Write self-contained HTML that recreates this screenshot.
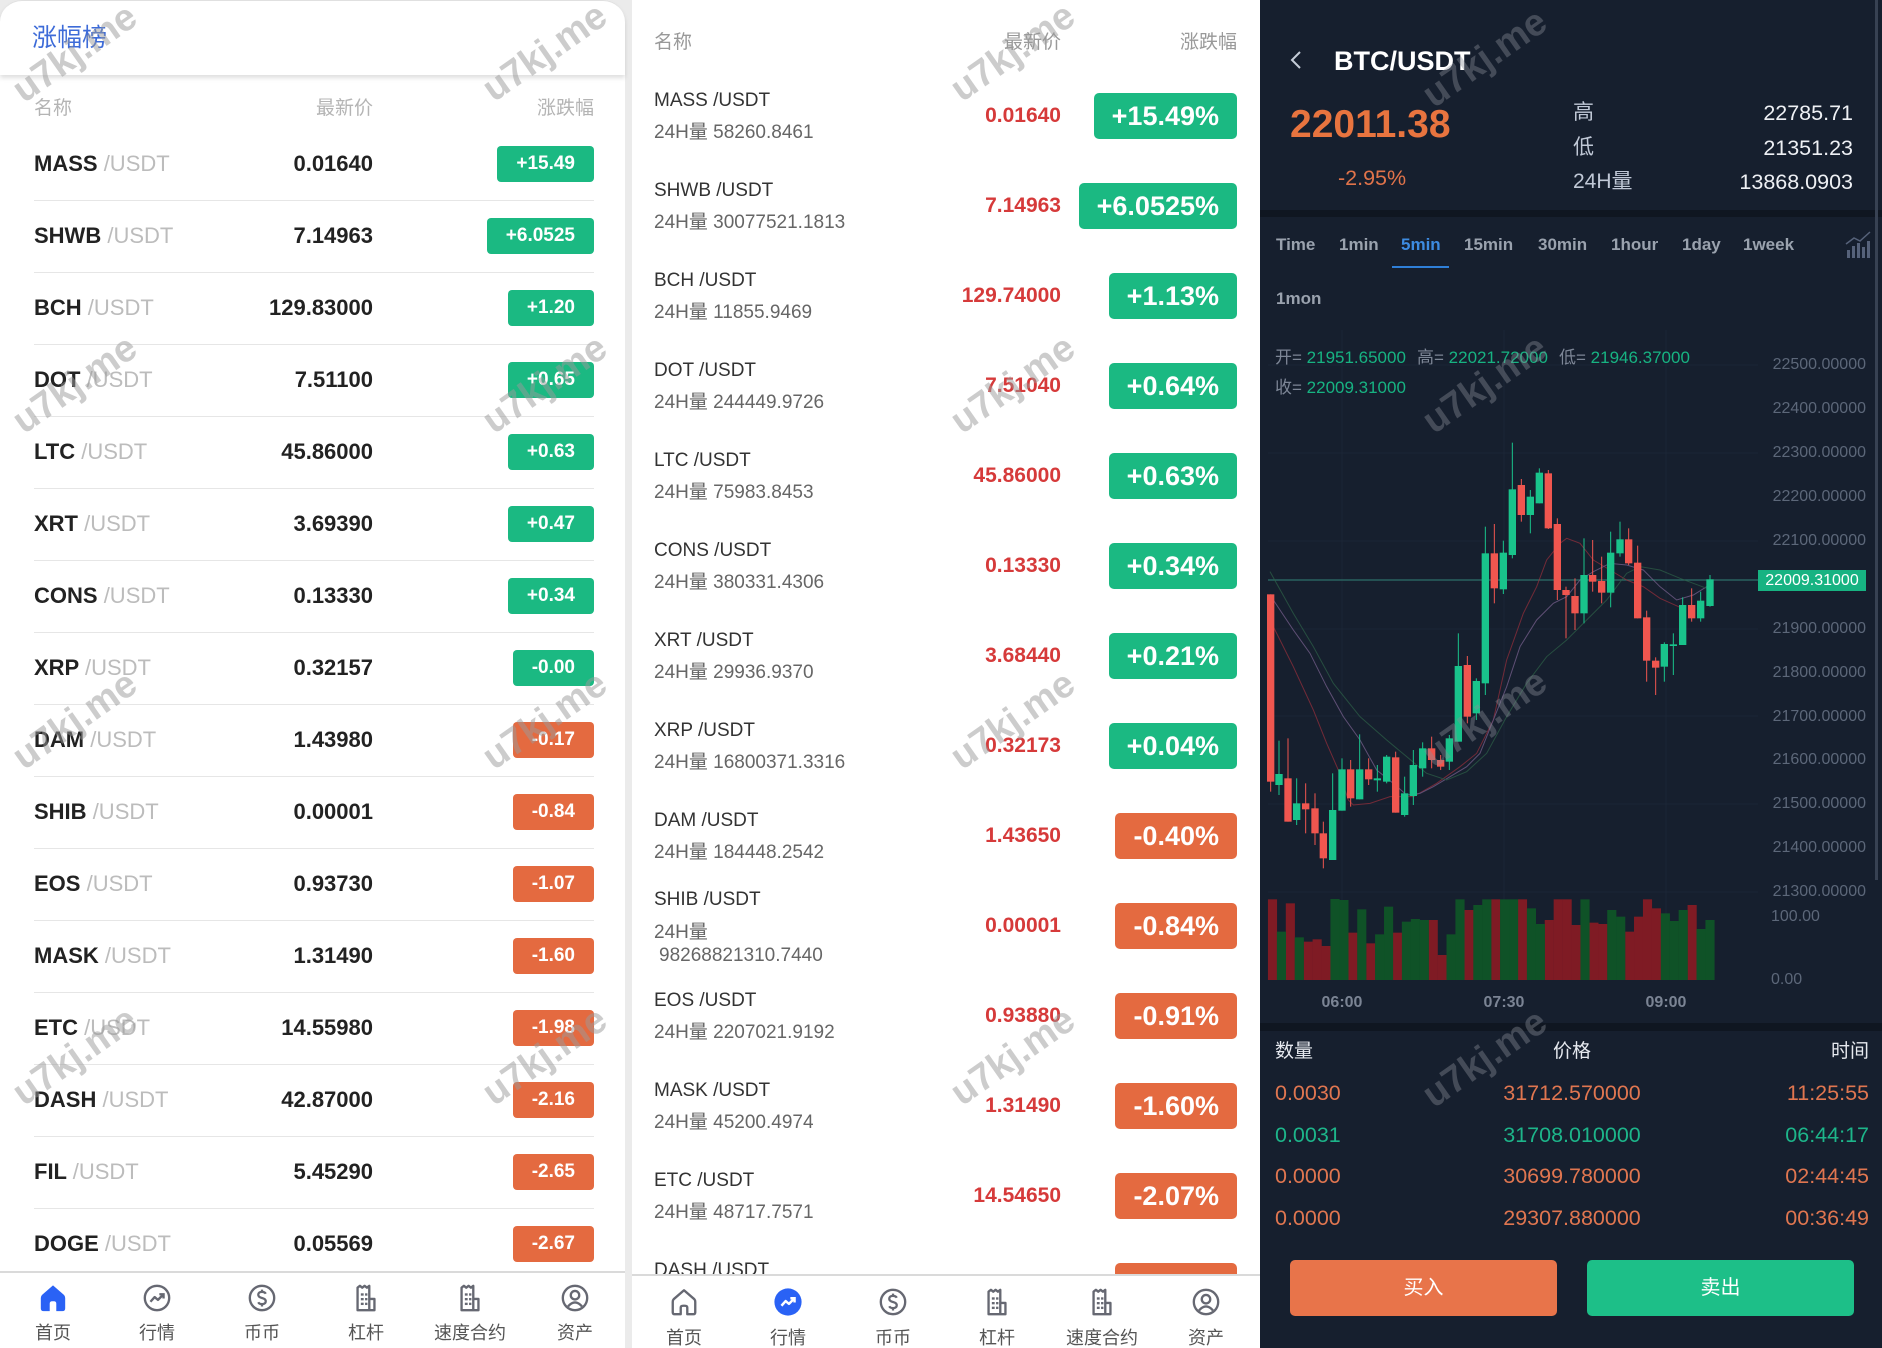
<!DOCTYPE html>
<html><head><meta charset="utf-8">
<style>
body{margin:0;}
#c{position:relative;width:1882px;height:1348px;overflow:hidden;background:#ebebeb;font-family:"Liberation Sans","Noto Sans CJK SC",sans-serif;}
.a{position:absolute;white-space:nowrap;}
.nm{left:34px;height:36px;line-height:36px;font-size:22px;font-weight:bold;color:#222;}
.us{color:#bcbcbc;font-weight:normal;}
.pr{right:1509px;height:36px;line-height:36px;font-size:22px;font-weight:bold;color:#222;}
.bd{right:1288px;height:36px;line-height:36px;padding:0 19px;border-radius:4px;color:#fff;font-size:19px;font-weight:bold;}
.g{background:#1bb982;}.o{background:#e46a40;}
.dv{left:34px;width:560px;height:1px;background:#e6e6e6;}
.n2{left:654px;height:24px;line-height:24px;font-size:19px;color:#333;}
.v2{left:654px;height:24px;line-height:24px;font-size:19px;color:#666;}
.p2{right:821px;height:46px;line-height:46px;font-size:21px;font-weight:bold;color:#d63a3a;}
.b2{right:645px;height:46px;line-height:46px;padding:0 18px;border-radius:5px;color:#fff;font-size:27px;font-weight:bold;}
.h1{height:24px;line-height:24px;font-size:19px;color:#b4b4b4;}
.h2{height:24px;line-height:24px;font-size:19px;color:#999;}
.nl{width:100px;text-align:center;height:22px;line-height:22px;font-size:18px;color:#555;}
.tb{top:233px;height:24px;line-height:24px;font-size:17px;font-weight:bold;color:#9aa2ae;}
.yl{right:16px;height:20px;line-height:20px;font-size:16px;color:#5c6779;}
.oh{height:22px;line-height:22px;font-size:17px;color:#7d8696;}
.oh b{font-weight:normal;color:#17b382;}
.tl{height:20px;line-height:20px;font-size:16px;font-weight:bold;color:#7b8494;width:80px;text-align:center;}
.tr{height:28px;line-height:28px;font-size:21.5px;}
.or{color:#e07650;}.gr{color:#1db58a;}
</style></head><body>
<div id="c">
<svg width="0" height="0" style="position:absolute">
<defs>
<symbol id="ihome" viewBox="0 0 32 32"><path d="M16 2.5 L4.5 12.5 Q3 13.8 3 15.8 V27 Q3 30 6 30 H12.5 V22 Q12.5 19.5 15 19.5 H17 Q19.5 19.5 19.5 22 V30 H26 Q29 30 29 27 V15.8 Q29 13.8 27.5 12.5 Z" fill="#2a62f5"/></symbol>
<symbol id="ihomeo" viewBox="0 0 32 32"><path d="M16 3.5 L5 13 Q4 14 4 15.8 V27 Q4 29 6 29 H12.5 V22 Q12.5 20 15 20 H17 Q19.5 20 19.5 22 V29 H26 Q28 29 28 27 V15.8 Q28 14 27 13 Z" fill="none" stroke="#666872" stroke-width="2.5" stroke-linejoin="round"/></symbol>
<symbol id="itrend" viewBox="0 0 32 32"><circle cx="16" cy="16" r="13" fill="none" stroke="#666872" stroke-width="2.5"/><polyline points="9,20 13.5,15 17,18 23,12" fill="none" stroke="#666872" stroke-width="2.5" stroke-linejoin="round"/><polyline points="18.5,12 23,12 23,16.5" fill="none" stroke="#666872" stroke-width="2.5"/></symbol>
<symbol id="itrendb" viewBox="0 0 32 32"><circle cx="16" cy="16" r="14.5" fill="#2a62f5"/><polyline points="9,20 13.5,15 17,18 23,12" fill="none" stroke="#fff" stroke-width="2.6" stroke-linejoin="round"/><polyline points="18.5,12 23,12 23,16.5" fill="none" stroke="#fff" stroke-width="2.6"/></symbol>
<symbol id="idol" viewBox="0 0 32 32"><circle cx="16" cy="16" r="13" fill="none" stroke="#666872" stroke-width="2.5"/><path d="M20 11.5 Q19 9.5 16 9.5 Q12 9.5 12 12.5 Q12 15 16 16 Q20 17 20 19.5 Q20 22.5 16 22.5 Q13 22.5 12 20.5 M16 7 V9.5 M16 22.5 V25" fill="none" stroke="#666872" stroke-width="2.4"/></symbol>
<symbol id="ibld" viewBox="0 0 32 32"><path d="M7 29 V5 L9.5 3 L12 5 L14.5 3 L17 5 L19.5 3 V29 Z M19.5 17 H25 V29 H19.5" fill="none" stroke="#666872" stroke-width="2.5" stroke-linejoin="round"/><rect x="10.5" y="11" width="3" height="2.5" fill="#666872"/><rect x="15" y="11" width="2.5" height="2.5" fill="#666872"/><rect x="10.5" y="16" width="3" height="2.5" fill="#666872"/><rect x="15" y="16" width="2.5" height="2.5" fill="#666872"/><rect x="10.5" y="21" width="3" height="2.5" fill="#666872"/><rect x="15" y="21" width="2.5" height="2.5" fill="#666872"/></symbol>
<symbol id="iusr" viewBox="0 0 32 32"><circle cx="16" cy="16" r="13" fill="none" stroke="#666872" stroke-width="2.5"/><circle cx="16" cy="13" r="4.5" fill="none" stroke="#666872" stroke-width="2.5"/><path d="M8.5 25 Q16 16.5 23.5 25" fill="none" stroke="#666872" stroke-width="2.5"/></symbol>
</defs>
</svg>

<!-- PANEL 1 -->
<div class="a" style="left:0;top:0;width:625px;height:1348px;background:#fff;border-radius:22px 22px 0 0;"></div>
<div class="a" style="left:0;top:0;width:625px;height:74px;background:#fff;border-radius:22px 22px 0 0;box-shadow:0 3px 5px rgba(0,0,0,0.13);border-top:1px solid #e0e0e0;"></div>
<div class="a" style="left:32px;top:23px;height:30px;line-height:30px;font-size:25px;color:#3d6bd8;">涨幅榜</div>
<div class="a h1" style="left:34px;top:97px;">名称</div>
<div class="a h1" style="right:1509px;top:97px;">最新价</div>
<div class="a h1" style="right:1288px;top:97px;">涨跌幅</div>

<div class="a nm" style="top:146px">MASS <span class="us">/USDT</span></div><div class="a pr" style="top:146px">0.01640</div><div class="a bd g" style="top:146px">+15.49</div>
<div class="a nm" style="top:218px">SHWB <span class="us">/USDT</span></div><div class="a pr" style="top:218px">7.14963</div><div class="a bd g" style="top:218px">+6.0525</div>
<div class="a nm" style="top:290px">BCH <span class="us">/USDT</span></div><div class="a pr" style="top:290px">129.83000</div><div class="a bd g" style="top:290px">+1.20</div>
<div class="a nm" style="top:362px">DOT <span class="us">/USDT</span></div><div class="a pr" style="top:362px">7.51100</div><div class="a bd g" style="top:362px">+0.65</div>
<div class="a nm" style="top:434px">LTC <span class="us">/USDT</span></div><div class="a pr" style="top:434px">45.86000</div><div class="a bd g" style="top:434px">+0.63</div>
<div class="a nm" style="top:506px">XRT <span class="us">/USDT</span></div><div class="a pr" style="top:506px">3.69390</div><div class="a bd g" style="top:506px">+0.47</div>
<div class="a nm" style="top:578px">CONS <span class="us">/USDT</span></div><div class="a pr" style="top:578px">0.13330</div><div class="a bd g" style="top:578px">+0.34</div>
<div class="a nm" style="top:650px">XRP <span class="us">/USDT</span></div><div class="a pr" style="top:650px">0.32157</div><div class="a bd g" style="top:650px">-0.00</div>
<div class="a nm" style="top:722px">DAM <span class="us">/USDT</span></div><div class="a pr" style="top:722px">1.43980</div><div class="a bd o" style="top:722px">-0.17</div>
<div class="a nm" style="top:794px">SHIB <span class="us">/USDT</span></div><div class="a pr" style="top:794px">0.00001</div><div class="a bd o" style="top:794px">-0.84</div>
<div class="a nm" style="top:866px">EOS <span class="us">/USDT</span></div><div class="a pr" style="top:866px">0.93730</div><div class="a bd o" style="top:866px">-1.07</div>
<div class="a nm" style="top:938px">MASK <span class="us">/USDT</span></div><div class="a pr" style="top:938px">1.31490</div><div class="a bd o" style="top:938px">-1.60</div>
<div class="a nm" style="top:1010px">ETC <span class="us">/USDT</span></div><div class="a pr" style="top:1010px">14.55980</div><div class="a bd o" style="top:1010px">-1.98</div>
<div class="a nm" style="top:1082px">DASH <span class="us">/USDT</span></div><div class="a pr" style="top:1082px">42.87000</div><div class="a bd o" style="top:1082px">-2.16</div>
<div class="a nm" style="top:1154px">FIL <span class="us">/USDT</span></div><div class="a pr" style="top:1154px">5.45290</div><div class="a bd o" style="top:1154px">-2.65</div>
<div class="a nm" style="top:1226px">DOGE <span class="us">/USDT</span></div><div class="a pr" style="top:1226px">0.05569</div><div class="a bd o" style="top:1226px">-2.67</div>

<div class="a dv" style="top:200px"></div><div class="a dv" style="top:272px"></div><div class="a dv" style="top:344px"></div><div class="a dv" style="top:416px"></div><div class="a dv" style="top:488px"></div><div class="a dv" style="top:560px"></div><div class="a dv" style="top:632px"></div><div class="a dv" style="top:704px"></div><div class="a dv" style="top:776px"></div><div class="a dv" style="top:848px"></div><div class="a dv" style="top:920px"></div><div class="a dv" style="top:992px"></div><div class="a dv" style="top:1064px"></div><div class="a dv" style="top:1136px"></div><div class="a dv" style="top:1208px"></div>

<div class="a" style="left:0;top:1271px;width:625px;height:77px;background:#fff;border-top:2px solid #dadada;"></div>
<svg class="a" style="left:38px;top:1283px" width="30" height="30"><use href="#ihome"/></svg>
<svg class="a" style="left:142px;top:1283px" width="30" height="30"><use href="#itrend"/></svg>
<svg class="a" style="left:247px;top:1283px" width="30" height="30"><use href="#idol"/></svg>
<svg class="a" style="left:351px;top:1283px" width="30" height="30"><use href="#ibld"/></svg>
<svg class="a" style="left:455px;top:1283px" width="30" height="30"><use href="#ibld"/></svg>
<svg class="a" style="left:560px;top:1283px" width="30" height="30"><use href="#iusr"/></svg>
<div class="a nl" style="left:3px;top:1322px">首页</div>
<div class="a nl" style="left:107px;top:1322px">行情</div>
<div class="a nl" style="left:212px;top:1322px">币币</div>
<div class="a nl" style="left:316px;top:1322px">杠杆</div>
<div class="a nl" style="left:420px;top:1322px">速度合约</div>
<div class="a nl" style="left:525px;top:1322px">资产</div>

<!-- PANEL 2 -->
<div class="a" style="left:632px;top:0;width:628px;height:1348px;background:#fff;"></div>
<div class="a h2" style="left:654px;top:31px;">名称</div>
<div class="a h2" style="right:821px;top:31px;">最新价</div>
<div class="a h2" style="right:645px;top:31px;">涨跌幅</div>

<div class="a n2" style="top:89px">MASS /USDT</div><div class="a v2" style="top:121px">24H量 58260.8461</div><div class="a p2" style="top:93px">0.01640</div><div class="a b2 g" style="top:93px">+15.49%</div>
<div class="a n2" style="top:179px">SHWB /USDT</div><div class="a v2" style="top:211px">24H量 30077521.1813</div><div class="a p2" style="top:183px">7.14963</div><div class="a b2 g" style="top:183px">+6.0525%</div>
<div class="a n2" style="top:269px">BCH /USDT</div><div class="a v2" style="top:301px">24H量 11855.9469</div><div class="a p2" style="top:273px">129.74000</div><div class="a b2 g" style="top:273px">+1.13%</div>
<div class="a n2" style="top:359px">DOT /USDT</div><div class="a v2" style="top:391px">24H量 244449.9726</div><div class="a p2" style="top:363px">7.51040</div><div class="a b2 g" style="top:363px">+0.64%</div>
<div class="a n2" style="top:449px">LTC /USDT</div><div class="a v2" style="top:481px">24H量 75983.8453</div><div class="a p2" style="top:453px">45.86000</div><div class="a b2 g" style="top:453px">+0.63%</div>
<div class="a n2" style="top:539px">CONS /USDT</div><div class="a v2" style="top:571px">24H量 380331.4306</div><div class="a p2" style="top:543px">0.13330</div><div class="a b2 g" style="top:543px">+0.34%</div>
<div class="a n2" style="top:629px">XRT /USDT</div><div class="a v2" style="top:661px">24H量 29936.9370</div><div class="a p2" style="top:633px">3.68440</div><div class="a b2 g" style="top:633px">+0.21%</div>
<div class="a n2" style="top:719px">XRP /USDT</div><div class="a v2" style="top:751px">24H量 16800371.3316</div><div class="a p2" style="top:723px">0.32173</div><div class="a b2 g" style="top:723px">+0.04%</div>
<div class="a n2" style="top:809px">DAM /USDT</div><div class="a v2" style="top:841px">24H量 184448.2542</div><div class="a p2" style="top:813px">1.43650</div><div class="a b2 o" style="top:813px">-0.40%</div>
<div class="a n2" style="top:888px">SHIB /USDT</div><div class="a v2" style="top:921px">24H量</div><div class="a v2" style="top:944px;left:659px">98268821310.7440</div><div class="a p2" style="top:903px">0.00001</div><div class="a b2 o" style="top:903px">-0.84%</div>
<div class="a n2" style="top:989px">EOS /USDT</div><div class="a v2" style="top:1021px">24H量 2207021.9192</div><div class="a p2" style="top:993px">0.93880</div><div class="a b2 o" style="top:993px">-0.91%</div>
<div class="a n2" style="top:1079px">MASK /USDT</div><div class="a v2" style="top:1111px">24H量 45200.4974</div><div class="a p2" style="top:1083px">1.31490</div><div class="a b2 o" style="top:1083px">-1.60%</div>
<div class="a n2" style="top:1169px">ETC /USDT</div><div class="a v2" style="top:1201px">24H量 48717.7571</div><div class="a p2" style="top:1173px">14.54650</div><div class="a b2 o" style="top:1173px">-2.07%</div>
<div class="a n2" style="top:1259px">DASH /USDT</div><div class="a b2 o" style="top:1263px">-2.16%</div>

<div class="a" style="left:632px;top:1274px;width:628px;height:74px;background:#fff;border-top:2px solid #dadada;"></div>
<svg class="a" style="left:669px;top:1287px" width="30" height="30"><use href="#ihomeo"/></svg>
<svg class="a" style="left:773px;top:1287px" width="30" height="30"><use href="#itrendb"/></svg>
<svg class="a" style="left:878px;top:1287px" width="30" height="30"><use href="#idol"/></svg>
<svg class="a" style="left:982px;top:1287px" width="30" height="30"><use href="#ibld"/></svg>
<svg class="a" style="left:1087px;top:1287px" width="30" height="30"><use href="#ibld"/></svg>
<svg class="a" style="left:1191px;top:1287px" width="30" height="30"><use href="#iusr"/></svg>
<div class="a nl" style="left:634px;top:1327px">首页</div>
<div class="a nl" style="left:738px;top:1327px">行情</div>
<div class="a nl" style="left:843px;top:1327px">币币</div>
<div class="a nl" style="left:947px;top:1327px">杠杆</div>
<div class="a nl" style="left:1052px;top:1327px">速度合约</div>
<div class="a nl" style="left:1156px;top:1327px">资产</div>

<!-- PANEL 3 -->
<div class="a" style="left:1260px;top:0;width:622px;height:1348px;background:#161f2e;"></div>
<div class="a" style="left:1260px;top:210px;width:622px;height:7px;background:#0f1621;"></div>
<div class="a" style="left:1260px;top:1023px;width:622px;height:8px;background:#0f1621;"></div>
<div class="a" style="left:1875px;top:0;width:3px;height:880px;background:#384253;"></div>

<svg class="a" style="left:1260px;top:0" width="622" height="1348">
 <polyline points="40,52 32,60 40,68" fill="none" stroke="#c5cdd8" stroke-width="2"/>
 <g fill="#56627a"><rect x="587" y="250" width="3" height="8"/><rect x="592" y="246" width="3" height="12"/><rect x="597" y="243" width="3" height="15"/><rect x="602" y="247" width="3" height="11"/><rect x="607" y="241" width="3" height="17"/></g>
 <polyline points="586,244 594,238 600,241 610,232" fill="none" stroke="#56627a" stroke-width="1.5"/>
 <rect x="132" y="266" width="57" height="2" fill="#2f7fd8"/>
 <g stroke="#1b2636" stroke-width="1">
  <line x1="82" y1="330" x2="82" y2="980"/><line x1="244" y1="330" x2="244" y2="980"/><line x1="406" y1="330" x2="406" y2="980"/>
  <line x1="8" y1="365" x2="498" y2="365"/><line x1="8" y1="453" x2="498" y2="453"/><line x1="8" y1="541" x2="498" y2="541"/><line x1="8" y1="629" x2="498" y2="629"/><line x1="8" y1="716" x2="498" y2="716"/><line x1="8" y1="804" x2="498" y2="804"/><line x1="8" y1="892" x2="498" y2="892"/>
 </g>
 <line x1="8" y1="580" x2="498" y2="580" stroke="#2d6f6a" stroke-width="1.2"/>
</svg>

<div class="a" style="left:1334px;top:44px;height:34px;line-height:34px;font-size:27px;font-weight:bold;color:#fff;">BTC/USDT</div>
<div class="a" style="left:1290px;top:101px;height:48px;line-height:48px;font-size:39px;font-weight:bold;color:#e8743f;">22011.38</div>
<div class="a" style="left:1338px;top:164px;height:28px;line-height:28px;font-size:21.5px;color:#e0734a;">-2.95%</div>
<div class="a" style="left:1573px;top:99px;height:28px;line-height:28px;font-size:21px;color:#c0c8d6;">高</div>
<div class="a" style="left:1573px;top:134px;height:28px;line-height:28px;font-size:21px;color:#c0c8d6;">低</div>
<div class="a" style="left:1573px;top:168px;height:28px;line-height:28px;font-size:21px;color:#c0c8d6;">24H量</div>
<div class="a" style="right:29px;top:99px;height:28px;line-height:28px;font-size:21.5px;color:#eef0f4;">22785.71</div>
<div class="a" style="right:29px;top:134px;height:28px;line-height:28px;font-size:21.5px;color:#eef0f4;">21351.23</div>
<div class="a" style="right:29px;top:168px;height:28px;line-height:28px;font-size:21.5px;color:#eef0f4;">13868.0903</div>

<div class="a tb" style="left:1276px">Time</div>
<div class="a tb" style="left:1339px">1min</div>
<div class="a tb" style="left:1401px;color:#3d8be0">5min</div>
<div class="a tb" style="left:1464px">15min</div>
<div class="a tb" style="left:1538px">30min</div>
<div class="a tb" style="left:1611px">1hour</div>
<div class="a tb" style="left:1682px">1day</div>
<div class="a tb" style="left:1743px">1week</div>
<div class="a tb" style="left:1276px;top:287px">1mon</div>

<div class="a oh" style="left:1275px;top:347px">开= <b>21951.65000</b></div>
<div class="a oh" style="left:1417px;top:347px">高= <b>22021.72000</b></div>
<div class="a oh" style="left:1559px;top:347px">低= <b>21946.37000</b></div>
<div class="a oh" style="left:1275px;top:377px">收= <b>22009.31000</b></div>

<div class="a yl" style="top:355px">22500.00000</div>
<div class="a yl" style="top:399px">22400.00000</div>
<div class="a yl" style="top:443px">22300.00000</div>
<div class="a yl" style="top:487px">22200.00000</div>
<div class="a yl" style="top:531px">22100.00000</div>
<div class="a yl" style="top:619px">21900.00000</div>
<div class="a yl" style="top:663px">21800.00000</div>
<div class="a yl" style="top:707px">21700.00000</div>
<div class="a yl" style="top:750px">21600.00000</div>
<div class="a yl" style="top:794px">21500.00000</div>
<div class="a yl" style="top:838px">21400.00000</div>
<div class="a yl" style="top:882px">21300.00000</div>
<div class="a" style="left:1758px;top:570px;width:108px;height:21px;line-height:21px;background:#17b382;color:#fff;font-size:16px;text-align:center;">22009.31000</div>
<div class="a yl" style="left:1771px;right:auto;top:907px">100.00</div>
<div class="a yl" style="left:1771px;right:auto;top:970px;height:14px;overflow:hidden;">0.00</div>

<svg class="a" style="left:0;top:0" width="1882" height="1348">
 <g transform="translate(1260,400) scale(0.333333)">
  <g fill="none" stroke-width="3" opacity="0.7">
   <polyline stroke="#9a2f3c" points="40,680 100,800 160,930 200,1030 235,1110 265,1200 280,1215 330,1210 390,1190 460,1190 530,1150 600,1100 650,1060 700,960 740,780 790,640 830,560 860,480 900,430 920,415 960,430 1000,480 1050,510 1100,540 1150,560 1200,595 1260,622"/>
   <polyline stroke="#7e6494" points="40,600 100,690 150,760 200,860 250,950 300,1020 350,1110 400,1150 440,1185 480,1180 520,1160 570,1130 620,1100 660,1060 700,960 740,860 780,740 830,660 880,610 920,590 960,540 1000,515 1050,490 1100,495 1150,510 1200,560 1250,600 1300,585 1340,560"/>
   <polyline stroke="#2e6248" points="30,515 100,640 160,740 220,850 300,950 380,1020 440,1070 500,1120 560,1140 620,1115 680,1060 740,950 800,850 860,770 920,720 980,660 1040,600 1100,520 1140,500 1200,510 1260,535 1340,565"/>
  </g>
  <g fill="#f0564f">
   <rect x="30.5" y="583" width="3" height="592"/><rect x="21" y="583" width="22" height="562"/>
   <rect x="82.5" y="1015" width="3" height="250"/><rect x="73" y="1135" width="22" height="130"/>
   <rect x="135.5" y="1150" width="3" height="150"/><rect x="126" y="1210" width="22" height="18"/>
   <rect x="163.5" y="1180" width="3" height="155"/><rect x="154" y="1225" width="22" height="75"/>
   <rect x="188.5" y="1265" width="3" height="140"/><rect x="179" y="1300" width="22" height="75"/>
   <rect x="270.5" y="1080" width="3" height="140"/><rect x="261" y="1108" width="22" height="87"/>
   <rect x="324.5" y="1075" width="3" height="80"/><rect x="315" y="1108" width="22" height="30"/>
   <rect x="405.5" y="1055" width="3" height="183"/><rect x="396" y="1072" width="22" height="166"/>
   <rect x="513.5" y="1010" width="3" height="95"/><rect x="504" y="1045" width="22" height="35"/>
   <rect x="540.5" y="1065" width="3" height="45"/><rect x="531" y="1080" width="22" height="20"/>
   <rect x="620.5" y="768" width="3" height="202"/><rect x="611" y="795" width="22" height="155"/>
   <rect x="701.5" y="372" width="3" height="238"/><rect x="692" y="460" width="22" height="105"/>
   <rect x="782.5" y="237" width="3" height="128"/><rect x="773" y="255" width="22" height="90"/>
   <rect x="863.5" y="210" width="3" height="177"/><rect x="854" y="220" width="22" height="165"/>
   <rect x="890.5" y="355" width="3" height="245"/><rect x="881" y="372" width="22" height="198"/>
   <rect x="916.5" y="560" width="3" height="155"/><rect x="907" y="570" width="22" height="15"/>
   <rect x="943.5" y="535" width="3" height="155"/><rect x="934" y="588" width="22" height="52"/>
   <rect x="996.5" y="420" width="3" height="155"/><rect x="987" y="525" width="22" height="20"/>
   <rect x="1023.5" y="470" width="3" height="140"/><rect x="1014" y="543" width="22" height="35"/>
   <rect x="1104.5" y="385" width="3" height="110"/><rect x="1095" y="418" width="22" height="72"/>
   <rect x="1131.5" y="437" width="3" height="218"/><rect x="1122" y="488" width="22" height="167"/>
   <rect x="1158.5" y="632" width="3" height="213"/><rect x="1149" y="652" width="22" height="130"/>
   <rect x="1185.5" y="772" width="3" height="113"/><rect x="1176" y="782" width="22" height="21"/>
   <rect x="1293.5" y="565" width="3" height="100"/><rect x="1284" y="615" width="22" height="40"/>
  </g>
  <g fill="#19c38b">
   <rect x="55.5" y="1022" width="3" height="163"/><rect x="46" y="1122" width="22" height="33"/>
   <rect x="108.5" y="1135" width="3" height="140"/><rect x="99" y="1210" width="22" height="50"/>
   <rect x="216.5" y="1120" width="3" height="260"/><rect x="207" y="1230" width="22" height="150"/>
   <rect x="244.5" y="1075" width="3" height="157"/><rect x="235" y="1108" width="22" height="124"/>
   <rect x="297.5" y="1003" width="3" height="195"/><rect x="288" y="1108" width="22" height="90"/>
   <rect x="350.5" y="1095" width="3" height="80"/><rect x="341" y="1135" width="22" height="6"/>
   <rect x="378.5" y="1065" width="3" height="85"/><rect x="369" y="1070" width="22" height="75"/>
   <rect x="432.5" y="1130" width="3" height="120"/><rect x="423" y="1180" width="22" height="65"/>
   <rect x="458.5" y="1050" width="3" height="165"/><rect x="449" y="1095" width="22" height="93"/>
   <rect x="486.5" y="1027" width="3" height="103"/><rect x="477" y="1045" width="22" height="60"/>
   <rect x="566.5" y="1005" width="3" height="105"/><rect x="557" y="1015" width="22" height="70"/>
   <rect x="593.5" y="700" width="3" height="325"/><rect x="584" y="798" width="22" height="227"/>
   <rect x="647.5" y="835" width="3" height="125"/><rect x="638" y="843" width="22" height="97"/>
   <rect x="674.5" y="380" width="3" height="505"/><rect x="665" y="460" width="22" height="390"/>
   <rect x="728.5" y="422" width="3" height="160"/><rect x="719" y="458" width="22" height="110"/>
   <rect x="755.5" y="128" width="3" height="347"/><rect x="746" y="268" width="22" height="197"/>
   <rect x="809.5" y="270" width="3" height="130"/><rect x="800" y="290" width="22" height="55"/>
   <rect x="836.5" y="205" width="3" height="105"/><rect x="827" y="218" width="22" height="92"/>
   <rect x="970.5" y="415" width="3" height="255"/><rect x="961" y="525" width="22" height="115"/>
   <rect x="1050.5" y="395" width="3" height="227"/><rect x="1041" y="458" width="22" height="120"/>
   <rect x="1078.5" y="365" width="3" height="105"/><rect x="1069" y="418" width="22" height="42"/>
   <rect x="1211.5" y="727" width="3" height="118"/><rect x="1202" y="732" width="22" height="68"/>
   <rect x="1238.5" y="700" width="3" height="125"/><rect x="1229" y="733" width="22" height="5"/>
   <rect x="1266.5" y="592" width="3" height="143"/><rect x="1257" y="615" width="22" height="120"/>
   <rect x="1320.5" y="575" width="3" height="90"/><rect x="1311" y="602" width="22" height="53"/>
   <rect x="1348.5" y="525" width="3" height="95"/><rect x="1339" y="538" width="22" height="80"/>
  </g>
 </g>
 <g transform="translate(1260,850) scale(0.39683,0.333333)">
  <g fill="#7f1b24">
   <rect x="20" y="148" width="23" height="242"/><rect x="65" y="160" width="23" height="230"/><rect x="110" y="275" width="23" height="115"/><rect x="132.5" y="268" width="23" height="122"/><rect x="155" y="288" width="23" height="102"/><rect x="222.5" y="248" width="23" height="142"/><rect x="267.5" y="280" width="23" height="110"/><rect x="335" y="248" width="23" height="142"/><rect x="425" y="210" width="23" height="180"/><rect x="447.5" y="315" width="23" height="75"/><rect x="515" y="180" width="23" height="210"/><rect x="582.5" y="148" width="23" height="242"/><rect x="650" y="148" width="23" height="242"/><rect x="717.5" y="210" width="23" height="180"/><rect x="740" y="148" width="23" height="242"/><rect x="762.5" y="148" width="23" height="242"/><rect x="785" y="225" width="23" height="165"/><rect x="830" y="218" width="23" height="172"/><rect x="852.5" y="222" width="23" height="168"/><rect x="920" y="245" width="23" height="145"/><rect x="942.5" y="200" width="23" height="190"/><rect x="965" y="148" width="23" height="242"/><rect x="987.5" y="175" width="23" height="215"/><rect x="1077.5" y="165" width="23" height="225"/>
  </g>
  <g fill="#0f5227">
   <rect x="42.5" y="245" width="23" height="145"/><rect x="87.5" y="262" width="23" height="128"/><rect x="177.5" y="147" width="23" height="243"/><rect x="200" y="150" width="23" height="240"/><rect x="245" y="178" width="23" height="212"/><rect x="290" y="253" width="23" height="137"/><rect x="312.5" y="170" width="23" height="220"/><rect x="357.5" y="215" width="23" height="175"/><rect x="380" y="207" width="23" height="183"/><rect x="402.5" y="210" width="23" height="180"/><rect x="470" y="253" width="23" height="137"/><rect x="492.5" y="148" width="23" height="242"/><rect x="537.5" y="165" width="23" height="225"/><rect x="560" y="148" width="23" height="242"/><rect x="605" y="148" width="23" height="242"/><rect x="627.5" y="148" width="23" height="242"/><rect x="672.5" y="175" width="23" height="215"/><rect x="695" y="222" width="23" height="168"/><rect x="807.5" y="148" width="23" height="242"/><rect x="875" y="180" width="23" height="210"/><rect x="897.5" y="200" width="23" height="190"/><rect x="1010" y="190" width="23" height="200"/><rect x="1032.5" y="213" width="23" height="177"/><rect x="1055" y="180" width="23" height="210"/><rect x="1100" y="237" width="23" height="153"/><rect x="1122.5" y="210" width="23" height="180"/>
  </g>
 </g>
</svg>

<div class="a tl" style="left:1302px;top:993px">06:00</div>
<div class="a tl" style="left:1464px;top:993px">07:30</div>
<div class="a tl" style="left:1626px;top:993px">09:00</div>

<div class="a" style="left:1275px;top:1039px;height:26px;line-height:26px;font-size:19px;color:#e6e9ef;">数量</div>
<div class="a" style="left:1522px;width:100px;text-align:center;top:1039px;height:26px;line-height:26px;font-size:19px;color:#e6e9ef;">价格</div>
<div class="a" style="right:13px;top:1039px;height:26px;line-height:26px;font-size:19px;color:#e6e9ef;">时间</div>

<div class="a tr or" style="left:1275px;top:1079px">0.0030</div><div class="a tr or" style="left:1472px;width:200px;text-align:center;top:1079px">31712.570000</div><div class="a tr or" style="right:13px;top:1079px">11:25:55</div>
<div class="a tr gr" style="left:1275px;top:1121px">0.0031</div><div class="a tr gr" style="left:1472px;width:200px;text-align:center;top:1121px">31708.010000</div><div class="a tr gr" style="right:13px;top:1121px">06:44:17</div>
<div class="a tr or" style="left:1275px;top:1162px">0.0000</div><div class="a tr or" style="left:1472px;width:200px;text-align:center;top:1162px">30699.780000</div><div class="a tr or" style="right:13px;top:1162px">02:44:45</div>
<div class="a tr or" style="left:1275px;top:1204px">0.0000</div><div class="a tr or" style="left:1472px;width:200px;text-align:center;top:1204px">29307.880000</div><div class="a tr or" style="right:13px;top:1204px">00:36:49</div>

<div class="a" style="left:1290px;top:1260px;width:267px;height:56px;line-height:56px;border-radius:5px;background:#e8744a;color:#fff;font-size:20px;text-align:center;">买入</div>
<div class="a" style="left:1587px;top:1260px;width:267px;height:56px;line-height:56px;border-radius:5px;background:#1dbf88;color:#fff;font-size:20px;text-align:center;">卖出</div>

<svg class="a" style="left:0;top:0" width="1882" height="1348">
 <g font-family="Liberation Sans, sans-serif" font-weight="bold" font-size="38" text-anchor="middle" dominant-baseline="middle">
  <g fill="#9a9a9a" fill-opacity="0.5">
   <text x="76" y="55" transform="rotate(-35 76 55)">u7kj.me</text>
   <text x="546" y="54" transform="rotate(-35 546 54)">u7kj.me</text>
   <text x="76" y="386" transform="rotate(-35 76 386)">u7kj.me</text>
   <text x="546" y="386" transform="rotate(-35 546 386)">u7kj.me</text>
   <text x="76" y="722" transform="rotate(-35 76 722)">u7kj.me</text>
   <text x="546" y="722" transform="rotate(-35 546 722)">u7kj.me</text>
   <text x="76" y="1058" transform="rotate(-35 76 1058)">u7kj.me</text>
   <text x="546" y="1058" transform="rotate(-35 546 1058)">u7kj.me</text>
   <text x="1014" y="54" transform="rotate(-35 1014 54)">u7kj.me</text>
   <text x="1014" y="386" transform="rotate(-35 1014 386)">u7kj.me</text>
   <text x="1014" y="722" transform="rotate(-35 1014 722)">u7kj.me</text>
   <text x="1014" y="1058" transform="rotate(-35 1014 1058)">u7kj.me</text>
  </g>
  <g fill="#8a8f98" fill-opacity="0.4">
   <text x="1486" y="60" transform="rotate(-35 1486 60)">u7kj.me</text>
   <text x="1486" y="386" transform="rotate(-35 1486 386)">u7kj.me</text>
   <text x="1486" y="720" transform="rotate(-35 1486 720)">u7kj.me</text>
   <text x="1486" y="1060" transform="rotate(-35 1486 1060)">u7kj.me</text>
  </g>
 </g>
</svg>
</div>
</body></html>
